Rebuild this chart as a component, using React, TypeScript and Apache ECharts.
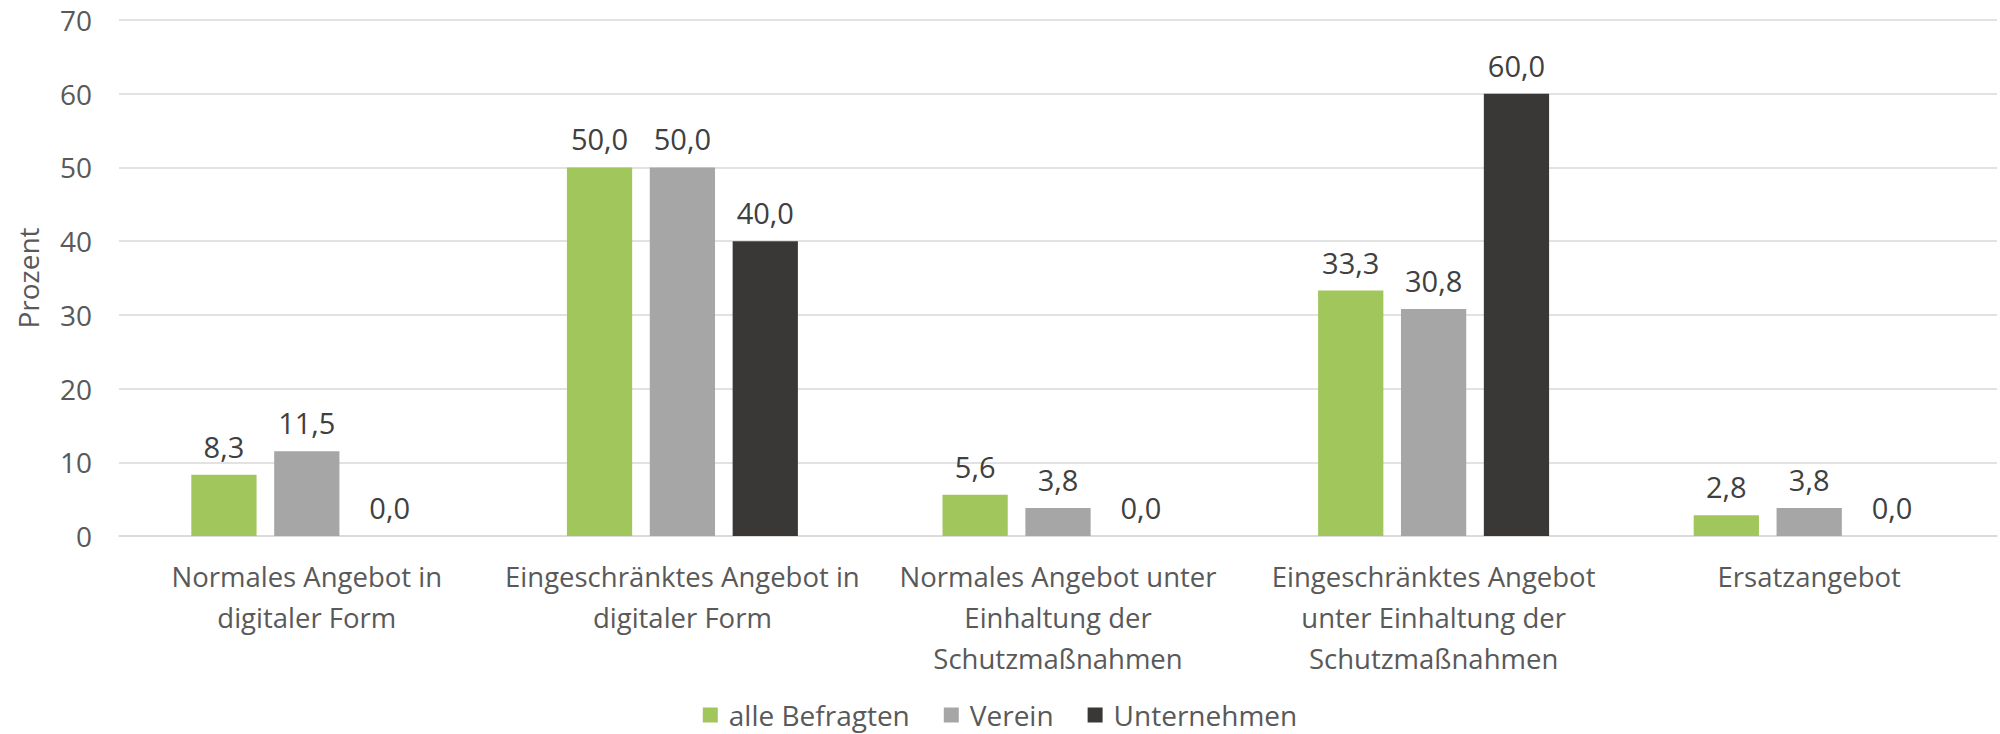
import React, { useEffect, useRef } from "react";
import * as echarts from "echarts";

const categories = [
  "Normales Angebot in\ndigitaler Form",
  "Eingeschränktes Angebot in\ndigitaler Form",
  "Normales Angebot unter\nEinhaltung der\nSchutzmaßnahmen",
  "Eingeschränktes Angebot\nunter Einhaltung der\nSchutzmaßnahmen",
  "Ersatzangebot",
];
const seriesNames = ["alle Befragten", "Verein", "Unternehmen"];
const alleBefragten = [8.3, 50.0, 5.6, 33.3, 2.8];
const verein = [11.5, 50.0, 3.8, 30.8, 3.8];
const unternehmen = [0.0, 40.0, 0.0, 60.0, 0.0];
const colors = ["#A1C65C", "#A6A6A6", "#3A3836"];
const yTicks = { min: 0, max: 70, interval: 10 };
const yAxisTitle = "Prozent";

const FONT = "'Open Sans', 'Noto Sans', sans-serif";

export default function App() {
  const ref = useRef<HTMLDivElement>(null);
  useEffect(() => {
    if (!ref.current) return;
    const chart = echarts.init(ref.current, undefined, { renderer: "svg" });
    const values = [alleBefragten, verein, unternehmen];
    chart.setOption({
      animation: false,
      backgroundColor: "#ffffff",
      textStyle: { fontFamily: FONT },
      grid: { left: 119, right: 3, top: 20, bottom: 198 },
      legend: {
        data: seriesNames,
        bottom: 0,
        left: "center",
        icon: "rect",
        itemWidth: 15,
        itemHeight: 15,
        itemGap: 34,
        textStyle: {
          fontFamily: FONT,
          fontSize: 28,
          color: "#595959",
          padding: [0, 0, 0, 6],
        },
      },
      xAxis: {
        type: "category",
        data: categories,
        axisLine: { show: true, lineStyle: { color: "#D9D9D9", width: 1.5 } },
        axisTick: { show: false },
        axisLabel: {
          interval: 0,
          margin: 20,
          fontSize: 27.5,
          lineHeight: 41,
          color: "#595959",
          fontFamily: FONT,
        },
      },
      yAxis: {
        type: "value",
        min: yTicks.min,
        max: yTicks.max,
        interval: yTicks.interval,
        name: yAxisTitle,
        nameLocation: "middle",
        nameRotate: 90,
        nameGap: 77,
        nameTextStyle: { fontSize: 28, color: "#595959", fontFamily: FONT },
        axisLine: { show: false },
        axisTick: { show: false },
        axisLabel: { fontSize: 28, color: "#595959", margin: 27, fontFamily: FONT },
        splitLine: { lineStyle: { color: "#D9D9D9", width: 1.5 } },
      },
      series: seriesNames.map((name, i) => ({
        name,
        type: "bar",
        data: values[i],
        barGap: "27%",
        barCategoryGap: "38.5%",
        itemStyle: { color: colors[i] },
        label: {
          show: true,
          position: "top",
          distance: 14,
          fontSize: 29,
          color: "#404040",
          fontFamily: FONT,
          formatter: (p: any) => Number(p.value).toFixed(1).replace(".", ","),
        },
      })),
    });
    return () => chart.dispose();
  }, []);
  return (
    <div
      ref={ref}
      style={{ position: "fixed", left: 0, top: 0, width: 2000, height: 734, background: "#fff" }}
    />
  );
}
